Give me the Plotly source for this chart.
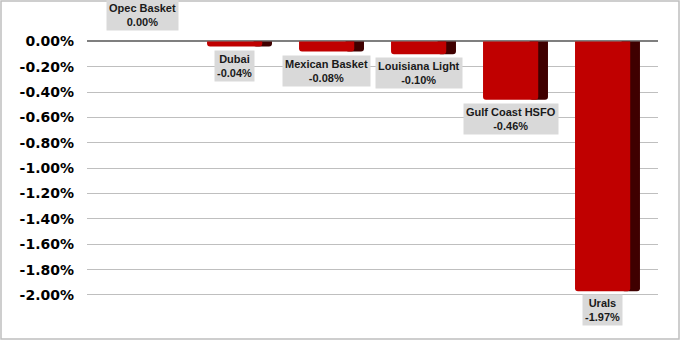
import plotly.graph_objects as go

categories = ["Opec Basket", "Dubai", "Mexican Basket", "Louisiana Light", "Gulf Coast HSFO", "Urals"]
values = [0.00, -0.04, -0.08, -0.10, -0.46, -1.97]  # percent
tick_vals = [0.0, -0.2, -0.4, -0.6, -0.8, -1.0, -1.2, -1.4, -1.6, -1.8, -2.0]
tick_text = ["%.2f%%" % v for v in tick_vals]

W, H = 681, 341
L, R = 87, 23
x_idx = list(range(len(categories)))

fig = go.Figure()
# side face (drawn first, behind)
fig.add_trace(go.Bar(x=x_idx, y=values, width=0.2, offset=0.153,
                     marker=dict(color="#3F0000", line=dict(width=0), cornerradius=3),
                     hoverinfo="skip", showlegend=False))
# front face
fig.add_trace(go.Bar(x=x_idx, y=values, width=0.6, offset=-0.353,
                     marker=dict(color="#C00000", line=dict(width=0), cornerradius=3),
                     hoverinfo="skip", showlegend=False))

for i, (c, v) in enumerate(zip(categories, values)):
    if v >= 0:
        ya, ys = "bottom", 10
    else:
        ya, ys = "top", -3
    fig.add_annotation(x=i - 0.054, y=v, xref="x", yref="y",
                       text="<b>%s<br>%.2f%%</b>" % (c, v),
                       showarrow=False, yanchor=ya, yshift=ys,
                       bgcolor="#D9D9D9", borderpad=2,
                       font=dict(family="Liberation Sans, Arial", size=11, color="#1a1a1a"))

plot_w = W - L - R
# outer chart border
fig.add_shape(type="rect", xref="paper", yref="paper",
              x0=(1 - L) / plot_w, x1=(W - 2 - L) / plot_w,
              y0=2 / H, y1=(H - 1) / H,
              line=dict(color="#BFBFBF", width=1.5), fillcolor="rgba(0,0,0,0)", layer="below")

fig.update_layout(
    width=W, height=H,
    margin=dict(l=L, r=R, t=0, b=0),
    paper_bgcolor="white", plot_bgcolor="white",
    barmode="overlay",
    xaxis=dict(range=[-0.658, 5.549], showticklabels=False, showgrid=False,
               zeroline=False, showline=False, ticks=""),
    yaxis=dict(range=[-2.363, 0.327], tickvals=tick_vals, ticktext=tick_text,
               showgrid=True, gridcolor="#BFBFBF", gridwidth=1,
               zeroline=True, zerolinecolor="#7F7F7F", zerolinewidth=1.5,
               showline=False, ticks="", ticklabelstandoff=12,
               tickfont=dict(family="DejaVu Sans", size=14, color="#000000", weight="bold")),
)

fig.write_html("out.html")
